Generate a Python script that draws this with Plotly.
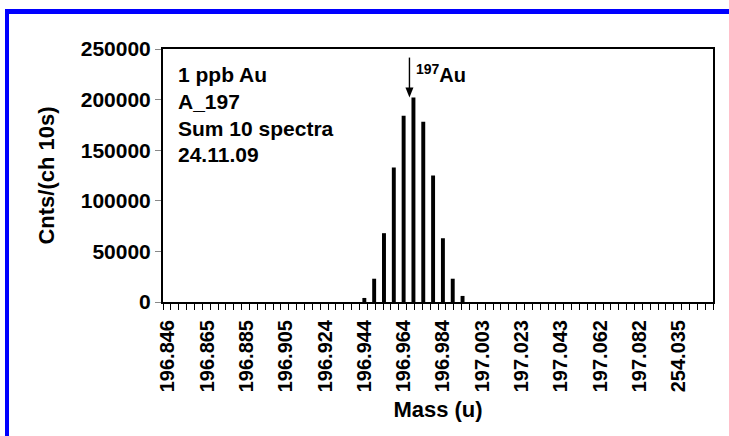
import plotly.graph_objects as go

# ---- data ----
tick_labels = ["196.846", "196.865", "196.885", "196.905", "196.924", "196.944",
               "196.964", "196.984", "197.003", "197.023", "197.043", "197.062",
               "197.082", "254.035"]
counts = [0, 0, 0, 0, 0, 0, 0, 0, 0, 0,
          0, 0, 0, 0, 0, 0, 0, 0, 0, 0,
          4000, 23000, 68000, 133000, 184000, 202000, 178000, 125000, 63000, 23000,
          6000, 0, 0, 0, 0, 0, 0, 0, 0, 0,
          0, 0, 0, 0, 0, 0, 0, 0, 0, 0,
          0, 0, 0, 0, 0, 0]
info_lines = ["1 ppb Au", "A_197", "Sum 10 spectra", "24.11.09"]
label_every = 4

channels = list(range(len(counts)))
tick_pos = [i * label_every for i in range(len(tick_labels))]
peak_idx = max(channels, key=lambda i: counts[i])
peak_val = counts[peak_idx]

# ---- layout geometry (pixels) ----
FIG_W, FIG_H = 729, 436
L, R, T, B = 163, 713, 49, 302
W, H = R - L, B - T


def px(x):
    return (x - L) / W


def py(y):
    return (B - y) / H


FONT = "Liberation Sans, Arial, sans-serif"

fig = go.Figure()
fig.add_trace(go.Bar(x=channels, y=counts, marker=dict(color="black", line=dict(width=0)),
                     hoverinfo="skip"))

annotations = []
line_y = [75, 101, 128, 154]
for txt, yy in zip(info_lines, line_y):
    annotations.append(dict(xref="paper", yref="paper", x=px(176), y=py(yy),
                            xanchor="left", yanchor="middle", text=txt, showarrow=False,
                            font=dict(family=FONT, size=21, color="black", weight="bold")))
annotations.append(dict(xref="paper", yref="paper", x=px(414), y=py(73),
                        xanchor="left", yanchor="middle", text="<sup>197</sup>Au",
                        showarrow=False,
                        font=dict(family=FONT, size=20, color="black", weight="bold")))

shapes = [
    dict(type="rect", xref="paper", yref="paper", x0=px(5), x1=px(9), y0=py(FIG_H + 5),
         y1=py(9), fillcolor="#0000ff", line=dict(width=0), layer="above"),
    dict(type="rect", xref="paper", yref="paper", x0=px(5), x1=px(FIG_W + 5), y0=py(14),
         y1=py(9), fillcolor="#0000ff", line=dict(width=0), layer="above"),
    # arrow pointing at the peak (pixel offsets relative to the peak bar top)
    dict(type="line", xref="x", yref="y", xsizemode="pixel", ysizemode="pixel",
         xanchor=peak_idx, yanchor=peak_val, x0=-4, x1=-4, y0=6, y1=40,
         line=dict(color="black", width=1.4)),
    dict(type="path", xref="x", yref="y", xsizemode="pixel", ysizemode="pixel",
         xanchor=peak_idx, yanchor=peak_val,
         path="M -8,10 L 0,10 L -4,0 Z", fillcolor="black", line=dict(width=0)),
]

fig.update_layout(
    width=FIG_W, height=FIG_H,
    margin=dict(l=L, r=FIG_W - R, t=T, b=FIG_H - B, autoexpand=False),
    paper_bgcolor="white", plot_bgcolor="white",
    font=dict(family=FONT, size=20, color="black", weight="bold"),
    showlegend=False,
    bargap=0.6,
    annotations=annotations,
    shapes=shapes,
    xaxis=dict(
        type="linear", range=[-0.5, len(counts) - 0.5],
        tickmode="array", tickvals=tick_pos, ticktext=tick_labels,
        tickangle=-90, ticks="", showgrid=False, zeroline=False,
        showline=True, linecolor="black", linewidth=2, mirror=True,
        ticklabelstandoff=8,
        tickfont=dict(family=FONT, size=20, color="black", weight="bold"),
        minor=dict(ticks="outside", tick0=-0.5, dtick=0.8, ticklen=6,
                   tickwidth=1.2, tickcolor="black", showgrid=False),
        title=dict(text="Mass (u)", standoff=10,
                   font=dict(family=FONT, size=22, color="black", weight="bold")),
    ),
    yaxis=dict(
        range=[0, 250000], dtick=50000, tickformat="d",
        ticks="outside", ticklen=6, tickwidth=1, tickcolor="#888888",
        showgrid=False, zeroline=False,
        showline=True, linecolor="black", linewidth=2, mirror=True,
        tickfont=dict(family=FONT, size=21, color="black", weight="bold"),
        title=dict(text="Cnts/(ch 10s)", standoff=20,
                   font=dict(family=FONT, size=22, color="black", weight="bold")),
    ),
)

fig.write_html("out.html")
